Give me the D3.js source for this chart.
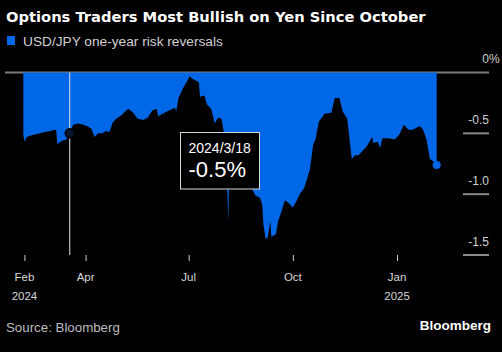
<!DOCTYPE html>
<html>
<head>
<meta charset="utf-8">
<script src="https://cdn.jsdelivr.net/npm/d3@7"></script>
<style>
  body { margin: 0; background: #000; }
  svg { display: block; font-family: "Liberation Sans", Arial, sans-serif; }
</style>
</head>
<body>
<div class="chart_wrapper"></div>
<script>
// USD/JPY one-year risk reversals
const dates = [
  "2024-02-06","2024-02-07","2024-02-09","2024-02-12","2024-02-16","2024-02-21","2024-02-25","2024-03-01",
  "2024-03-05","2024-03-06","2024-03-07","2024-03-11","2024-03-15","2024-03-18","2024-03-21","2024-03-26",
  "2024-03-30","2024-04-02","2024-04-06","2024-04-09","2024-04-12","2024-04-16","2024-04-19","2024-04-22",
  "2024-04-25","2024-04-28","2024-05-03","2024-05-07","2024-05-09","2024-05-13","2024-05-17","2024-05-22",
  "2024-05-26","2024-05-30","2024-06-03","2024-06-04","2024-06-08","2024-06-14","2024-06-19","2024-06-20",
  "2024-06-22","2024-06-26","2024-06-29","2024-07-02","2024-07-04","2024-07-08","2024-07-10","2024-07-11",
  "2024-07-15","2024-07-17","2024-07-21","2024-07-24","2024-07-27","2024-07-30","2024-08-01","2024-08-03",
  "2024-08-05","2024-08-06","2024-08-11","2024-08-15","2024-08-20","2024-08-24","2024-08-29","2024-09-02",
  "2024-09-04","2024-09-05","2024-09-07","2024-09-09","2024-09-11","2024-09-12","2024-09-16","2024-09-18",
  "2024-09-21","2024-09-24","2024-09-27","2024-10-01","2024-10-04","2024-10-07","2024-10-11","2024-10-16",
  "2024-10-19","2024-10-21","2024-10-24","2024-10-25","2024-10-29","2024-11-04","2024-11-07","2024-11-11",
  "2024-11-14","2024-11-18","2024-11-22","2024-11-25","2024-11-28","2024-12-02","2024-12-05","2024-12-10",
  "2024-12-11","2024-12-15","2024-12-17","2024-12-19","2024-12-25","2024-12-30","2025-01-03","2025-01-07",
  "2025-01-11","2025-01-15","2025-01-21","2025-01-24","2025-01-27","2025-01-30","2025-02-02","2025-02-05"
]
const values = [
  -0.51,-0.57,-0.53,-0.52,-0.51,-0.50,-0.49,-0.48,
  -0.47,-0.47,-0.59,-0.56,-0.55,-0.50,-0.43,-0.42,
  -0.43,-0.44,-0.46,-0.53,-0.50,-0.50,-0.48,-0.49,
  -0.41,-0.38,-0.35,-0.31,-0.30,-0.33,-0.38,-0.39,
  -0.37,-0.31,-0.30,-0.36,-0.34,-0.31,-0.29,-0.32,
  -0.21,-0.13,-0.08,-0.03,-0.05,-0.07,-0.08,-0.20,
  -0.19,-0.26,-0.30,-0.42,-0.37,-0.38,-0.49,-0.64,
  -1.23,-0.72,-0.76,-0.80,-0.87,-0.92,-1.01,-1.03,
  -1.09,-1.25,-1.37,-1.35,-1.22,-1.35,-1.33,-1.22,
  -1.14,-1.05,-1.07,-1.11,-1.06,-1.00,-0.95,-0.80,
  -0.59,-0.55,-0.40,-0.39,-0.34,-0.33,-0.21,-0.21,
  -0.32,-0.38,-0.71,-0.68,-0.68,-0.64,-0.61,-0.53,
  -0.58,-0.57,-0.62,-0.54,-0.54,-0.55,-0.51,-0.43,
  -0.47,-0.47,-0.44,-0.47,-0.55,-0.71,-0.73,-0.76
]
const yTicks = [0, -0.5, -1.0, -1.5]
const yTickLabels = ["0", "-0.5", "-1.0", "-1.5"]
const xTicks = ["2024-02-07", "2024-04-01", "2024-07-01", "2024-10-01", "2025-01-01"]
const xTickMonths = ["Feb", "Apr", "Jul", "Oct", "Jan"]
const xTickYears = ["2024", "", "", "", "2025"]
const highlightDate = "2024-03-18"
const highlightLabel = "2024/3/18"
const highlightValue = "-0.5%"

const parse = d3.timeParse("%Y-%m-%d")
const dataset = dates.map((d, i) => ({ date: parse(d), value: values[i] }))

const width = 502, height = 352
const blue = "#0068e6"

const svg = d3.select(".chart_wrapper")
  .append("svg")
    .attr("width", width)
    .attr("height", height)

svg.append("rect").attr("width", width).attr("height", height).attr("fill", "#000")

const xScale = d3.scaleTime()
  .domain([parse("2024-02-06"), parse("2025-02-05")])
  .range([23.3, 436.7])

const yScale = d3.scaleLinear()
  .domain([0, -1.5])
  .range([72.5, 255])

// title + legend
svg.append("text")
  .attr("x", 6).attr("y", 22)
  .attr("fill", "#fff")
  .attr("font-family", "'DejaVu Sans', sans-serif")
  .attr("font-size", 14.7)
  .attr("font-weight", "bold")
  .text("Options Traders Most Bullish on Yen Since October")

svg.append("rect")
  .attr("x", 7).attr("y", 36).attr("width", 8).attr("height", 9)
  .attr("fill", blue)

svg.append("text")
  .attr("x", 23).attr("y", 45.5)
  .attr("fill", "#d0d0d0")
  .attr("font-size", 13.7)
  .text("USD/JPY one-year risk reversals")

// zero line and right-hand gridlines
svg.append("line")
  .attr("x1", 5).attr("x2", 489)
  .attr("y1", yScale(0)).attr("y2", yScale(0))
  .attr("stroke", "#7a7a7a").attr("stroke-width", 2)

svg.selectAll(".grid")
  .data(yTicks.slice(1))
  .enter()
  .append("line")
    .attr("x1", 463).attr("x2", 489)
    .attr("y1", d => yScale(d)).attr("y2", d => yScale(d))
    .attr("stroke", "#8a8a8a").attr("stroke-width", 2)

svg.selectAll(".ylab")
  .data(yTicks)
  .enter()
  .append("text")
    .attr("x", 489)
    .attr("y", d => yScale(d) - 9.5)
    .attr("text-anchor", "end")
    .attr("fill", "#d0d0d0")
    .attr("font-size", 12)
    .text((d, i) => yTickLabels[i])

svg.append("text")
  .attr("x", 489).attr("y", yScale(0) - 9.5)
  .attr("fill", "#d0d0d0")
  .attr("font-size", 12)
  .text("%")

// area
const area = d3.area()
  .x(d => xScale(d.date))
  .y0(yScale(0))
  .y1(d => yScale(d.value))

svg.append("path")
  .datum(dataset)
  .attr("d", area)
  .attr("fill", blue)

// x axis
const xAxis = d3.axisBottom(xScale)
  .tickValues(xTicks.map(parse))
  .tickSize(6)
  .tickFormat("")

const gx = svg.append("g")
  .attr("transform", "translate(0,255)")
  .call(xAxis)
gx.select(".domain").remove()
gx.selectAll(".tick line").attr("stroke", "#cfcfcf")

xTicks.forEach((t, i) => {
  svg.append("text")
    .attr("x", xScale(parse(t))).attr("y", 281)
    .attr("text-anchor", "middle")
    .attr("fill", "#d8d8d8").attr("font-size", 11.5)
    .text(xTickMonths[i])
  if (xTickYears[i]) {
    svg.append("text")
      .attr("x", xScale(parse(t))).attr("y", 299.5)
      .attr("text-anchor", "middle")
      .attr("fill", "#d8d8d8").attr("font-size", 11.5)
      .text(xTickYears[i])
  }
})

// highlight
const hx = xScale(parse(highlightDate))
const hv = dataset.find(d => +d.date === +parse(highlightDate)).value

svg.append("line")
  .attr("x1", hx).attr("x2", hx)
  .attr("y1", yScale(0)).attr("y2", yScale(-1.5))
  .attr("stroke", "#e0e0e0").attr("stroke-width", 1)

svg.append("circle")
  .attr("cx", hx).attr("cy", yScale(hv))
  .attr("r", 4.5)
  .attr("fill", "#03172f")
  .attr("stroke", "#000").attr("stroke-width", 1.5)

const last = dataset[dataset.length - 1]
svg.append("circle")
  .attr("cx", xScale(last.date)).attr("cy", yScale(last.value))
  .attr("r", 4)
  .attr("fill", blue)

svg.append("rect")
  .attr("x", 180.5).attr("y", 132.5).attr("width", 79).attr("height", 56.5)
  .attr("fill", "#000")
  .attr("stroke", "#d8d8d8").attr("stroke-width", 1)

svg.append("text")
  .attr("x", 188.5).attr("y", 153)
  .attr("fill", "#fff").attr("font-size", 14)
  .text(highlightLabel)

svg.append("text")
  .attr("x", 188.5).attr("y", 177)
  .attr("fill", "#fff").attr("font-size", 22)
  .text(highlightValue)

// footer
svg.append("text")
  .attr("x", 6).attr("y", 332)
  .attr("fill", "#bdbdbd").attr("font-size", 13.3)
  .text("Source: Bloomberg")

svg.append("text")
  .attr("x", 491).attr("y", 330)
  .attr("text-anchor", "end")
  .attr("fill", "#fff").attr("font-size", 13.5).attr("font-weight", "bold")
  .text("Bloomberg")
</script>
</body>
</html>
